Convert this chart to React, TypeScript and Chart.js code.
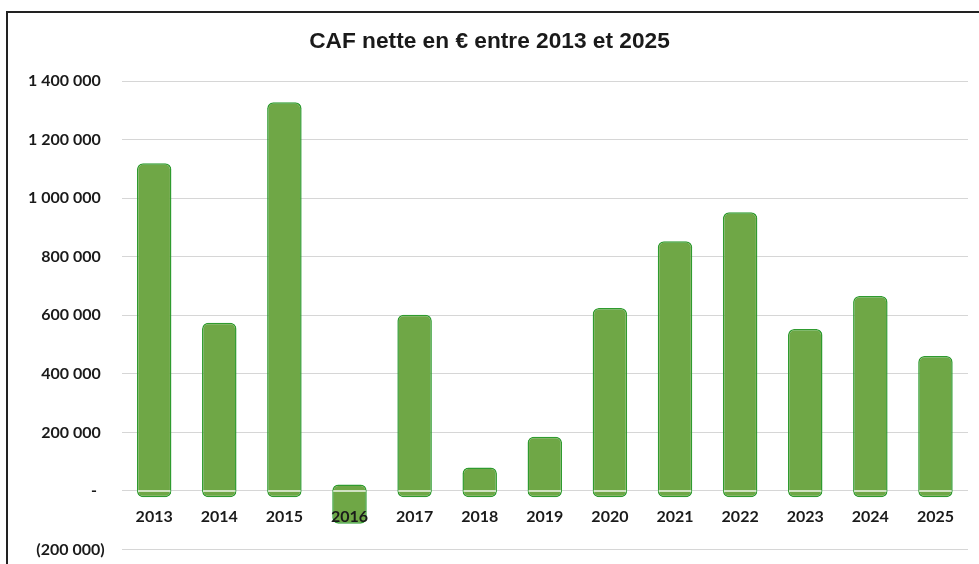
import React, { useEffect, useRef } from "react";
import { Chart, registerables } from "chart.js";

Chart.register(...registerables);

const years = ["2013", "2014", "2015", "2016", "2017", "2018", "2019", "2020", "2021", "2022", "2023", "2024", "2025"];
const cafNette = [1120000, 575000, 1328000, -112000, 602000, 80000, 185000, 625000, 853000, 952000, 553000, 666000, 461000];
const yMin = -200000;
const yMax = 1400000;
const yStep = 200000;
const titleText = "CAF nette en € entre 2013 et 2025";

// visual overhang of the rounded bars past the zero line (value units)
const OVERHANG = 22000;

function fmt(v: number): string {
  if (v === 0) return "-  ";
  const s = Math.abs(v).toString().replace(/\B(?=(\d{3})+(?!\d))/g, " ");
  return v < 0 ? `(${s})` : `${s} `;
}

const zeroLinePlugin = {
  id: "zeroLineOverBars",
  afterDatasetsDraw(chart: any) {
    const y = chart.scales.y.getPixelForValue(0);
    const meta = chart.getDatasetMeta(0);
    const ctx = chart.ctx;
    ctx.save();
    ctx.strokeStyle = "rgba(255,255,255,0.9)";
    ctx.lineWidth = 1.5;
    meta.data.forEach((bar: any) => {
      const w = bar.width;
      ctx.beginPath();
      ctx.moveTo(bar.x - w / 2 + 1, y);
      ctx.lineTo(bar.x + w / 2 - 1, y);
      ctx.stroke();
    });
    ctx.restore();
  },
};

export default function App() {
  const ref = useRef<HTMLCanvasElement>(null);
  useEffect(() => {
    document.body.style.margin = "0";
    const chart = new Chart(ref.current!, {
      type: "bar",
      data: {
        labels: years,
        datasets: [
          {
            data: cafNette.map((v) => (v >= 0 ? [-OVERHANG, v] : [OVERHANG, v])) as any,
            backgroundColor: "#6fa746",
            borderColor: "#2f9b2f",
            borderWidth: 1.5,
            borderRadius: 6,
            borderSkipped: false,
            barPercentage: 0.53,
            categoryPercentage: 1,
          },
        ],
      },
      options: {
        animation: false,
        responsive: false,
        maintainAspectRatio: false,
        layout: { padding: { left: 11, right: 11, top: 18, bottom: 5 } },
        plugins: {
          legend: { display: false },
          tooltip: { enabled: false },
          title: {
            display: true,
            text: titleText,
            color: "#1a1a1a",
            font: { family: "'Liberation Sans', Arial, sans-serif", size: 22.7, weight: "bold" },
            padding: { top: 10, bottom: 26 },
          },
        },
        scales: {
          x: {
            position: { y: 0 } as any,
            grid: { display: false, drawTicks: false },
            border: { display: false },
            ticks: {
              z: 1,
              color: "#1a1a1a",
              padding: 16,
              font: { family: "Lato, 'Open Sans', sans-serif", size: 16, weight: "bold" },
              maxRotation: 0,
            },
          },
          y: {
            min: yMin,
            max: yMax,
            border: { display: false },
            grid: { color: "#d6d6d6", lineWidth: 1, drawTicks: false },
            ticks: {
              stepSize: yStep,
              padding: 17,
              color: "#1a1a1a",
              font: { family: "Lato, 'Open Sans', sans-serif", size: 16, weight: "bold" },
              callback: (v: any) => fmt(Number(v)),
            },
          },
        },
      },
      plugins: [zeroLinePlugin],
    });
    return () => chart.destroy();
  }, []);

  return (
    <div style={{ position: "relative", width: 979, height: 564, overflow: "hidden", background: "#fff" }}>
      <div
        style={{
          position: "absolute",
          left: 6,
          top: 11,
          width: 1000,
          height: 600,
          borderLeft: "2px solid #222",
          borderTop: "2px solid #222",
        }}
      />
      <canvas ref={ref} width={979} height={576} style={{ position: "absolute", left: 0, top: 0, display: "block" }} />
    </div>
  );
}
